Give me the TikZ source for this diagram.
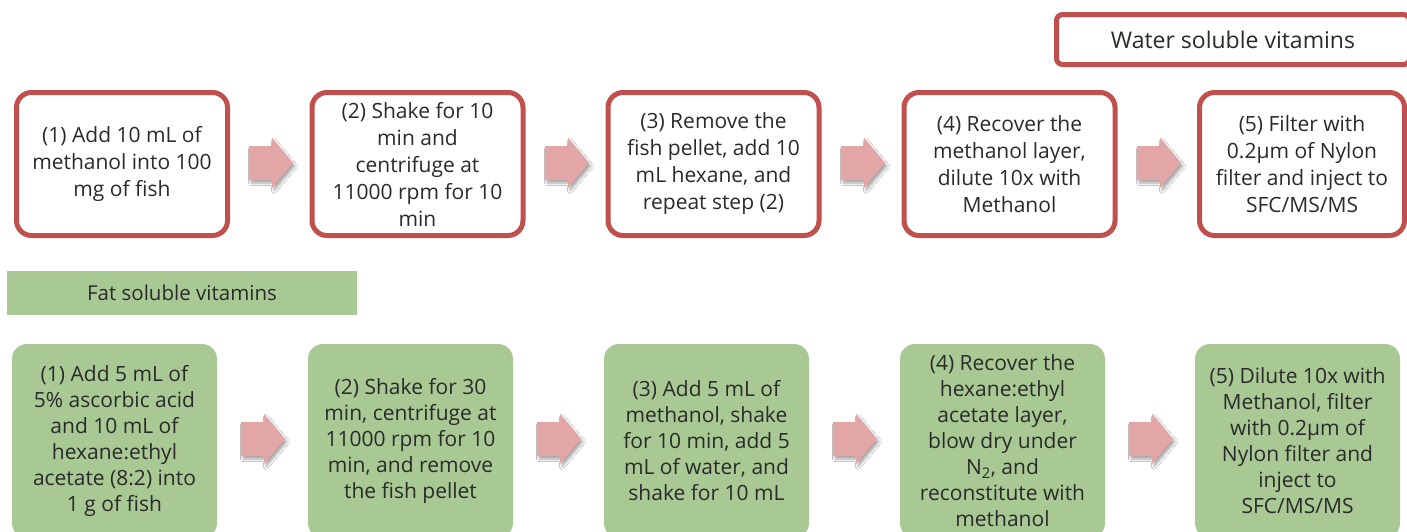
\documentclass[tikz,border=0pt]{standalone}
\usepackage{fontspec}
\setmainfont{Open Sans}
\usetikzlibrary{shadows.blur}
\definecolor{boxred}{HTML}{C0504D}
\definecolor{boxgreen}{HTML}{A9C994}
\definecolor{arrowpink}{HTML}{E2A6A6}
\definecolor{txt}{HTML}{2A2A2A}
\tikzset{
  redbox/.style={draw=boxred, line width=5pt, fill=white, rounded corners=15pt,
    minimum width=211pt, minimum height=143pt, align=center, inner sep=0pt,
    text=txt, font=\fontsize{21}{27}\selectfont},
  greenbox/.style={fill=boxgreen, rounded corners=15pt,
    minimum width=205pt, minimum height=194pt, align=center, inner sep=0pt,
    text=txt, font=\fontsize{21}{26}\selectfont},
  barrow/.style={fill=arrowpink, blur shadow={shadow xshift=2pt, shadow yshift=-3pt,
    shadow blur steps=6, shadow blur radius=2.5pt, shadow opacity=35}},
}
\newcommand{\blockarrow}[2]{%
  \path[barrow, shift={(#1,#2)}] (0,-17) -- (23,-17) -- (23,-25) -- (44,0) -- (23,25) -- (23,17) -- (0,17) -- cycle;}
\begin{document}
\begin{tikzpicture}[x=1pt,y=-1pt]
\path[use as bounding box] (0,0) rectangle (1407,531);
\clip (0,0) rectangle (1407,531);
\fill[white] (0,0) rectangle (1407,531);

% headers
\node[draw=boxred, line width=5pt, fill=white, rounded corners=6pt, minimum width=353pt,
  minimum height=50pt, inner sep=0pt, text=txt, font=\fontsize{23}{26}\selectfont]
  (water) at (1233,39.5) {Water soluble vitamins};
\node[fill=boxgreen, minimum width=350pt, minimum height=44pt, inner sep=0pt,
  text=txt, font=\fontsize{20.5}{24}\selectfont] (fat) at (182,293) {Fat soluble vitamins};

% top row
\node[redbox] (w1) at (122,164) {(1) Add 10 mL of\\methanol into 100\\mg of fish};
\node[redbox] (w2) at (417.5,164) {(2) Shake for 10\\min and\\centrifuge at\\11000 rpm for 10\\min};
\node[redbox] (w3) at (713.5,164) {(3) Remove the\\fish pellet, add 10\\mL hexane, and\\repeat step (2)};
\node[redbox] (w4) at (1009.5,164) {(4) Recover the\\methanol layer,\\dilute 10x with\\Methanol};
\node[redbox, minimum width=205pt] (w5) at (1302,164) {(5) Filter with\\0.2µm of Nylon\\filter and inject to\\SFC/MS/MS};

% bottom row
\node[greenbox] (f1) at (114.5,441) {(1) Add 5 mL of\\5\% ascorbic acid\\and 10 mL of\\hexane:ethyl\\acetate (8:2) into\\1 g of fish};
\node[greenbox] (f2) at (410.5,441) {(2) Shake for 30\\min, centrifuge at\\11000 rpm for 10\\min, and remove\\the fish pellet};
\node[greenbox] (f3) at (706.5,441) {(3) Add 5 mL of\\methanol, shake\\for 10 min, add 5\\mL of water, and\\shake for 10 mL};
\node[greenbox] (f4) at (1002.5,441) {(4) Recover the\\hexane:ethyl\\acetate layer,\\blow dry under\\N\textsubscript{2}, and\\reconstitute with\\methanol};
\node[greenbox] (f5) at (1297.5,441) {(5) Dilute 10x with\\Methanol, filter\\with 0.2µm of\\Nylon filter and\\inject to\\SFC/MS/MS};

% arrows
\blockarrow{249}{163}
\blockarrow{545}{163}
\blockarrow{841}{163}
\blockarrow{1137}{163}
\blockarrow{241}{439}
\blockarrow{537}{439}
\blockarrow{833}{439}
\blockarrow{1129}{439}
\end{tikzpicture}
\end{document}
